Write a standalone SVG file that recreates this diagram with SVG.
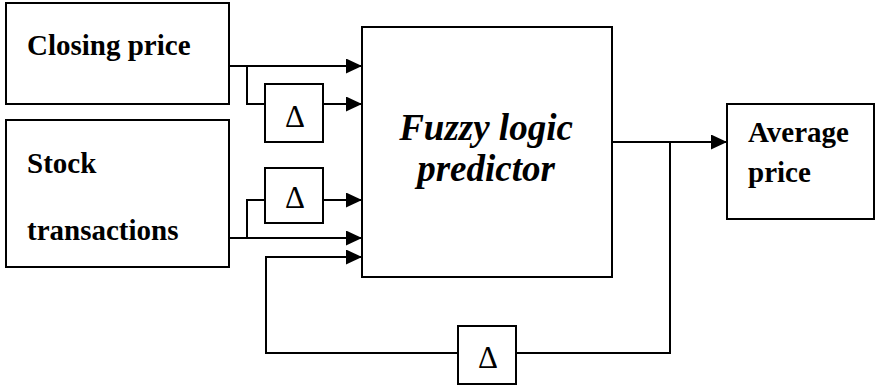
<svg xmlns="http://www.w3.org/2000/svg" width="876" height="388" viewBox="0 0 876 388">
<style>
.box{fill:#fff;stroke:#000;stroke-width:2}
.ln{fill:none;stroke:#000;stroke-width:2}
.d{font-size:31px}
</style>
<defs>
<marker id="ah" markerWidth="16" markerHeight="15" refX="16" refY="7.5" orient="auto" markerUnits="userSpaceOnUse">
<path d="M0,0 L16,7.5 L0,15 Z" fill="#000"/>
</marker>
</defs>
<rect width="876" height="388" fill="#fff"/>
<g id="connectors">
<path class="ln" d="M229,66 H362" marker-end="url(#ah)"/>
<path class="ln" d="M247,66 V104 H265"/>
<path class="ln" d="M323,104 H362" marker-end="url(#ah)"/>
<path class="ln" d="M229,238 H362" marker-end="url(#ah)"/>
<path class="ln" d="M247,238 V200 H265"/>
<path class="ln" d="M323,200 H362" marker-end="url(#ah)"/>
<path class="ln" d="M612,142 H727" marker-end="url(#ah)"/>
<path class="ln" d="M670,142 V353 H516"/>
<path class="ln" d="M458,353 H266 V257 H362" marker-end="url(#ah)"/>
</g>
<g font-family="Liberation Serif, Times New Roman, Times, DejaVu Serif, serif" fill="#000">
<g id="closing">
<rect class="box" x="6" y="3" width="223" height="101"/>
<text x="27" y="55" font-size="29" font-weight="bold">Closing price</text>
</g>
<g id="stock">
<rect class="box" x="6" y="120" width="223" height="147"/>
<text x="27" y="173" font-size="29" font-weight="bold">Stock</text>
<text x="27" y="240" font-size="29" font-weight="bold">transactions</text>
</g>
<g id="delta1">
<rect class="box" x="265" y="84" width="58" height="58"/>
<text class="d" x="295" y="127" text-anchor="middle">Δ</text>
</g>
<g id="delta2">
<rect class="box" x="265" y="168" width="58" height="55"/>
<text class="d" x="295" y="208" text-anchor="middle">Δ</text>
</g>
<g id="fuzzy">
<rect class="box" x="362" y="27" width="250" height="250"/>
<text x="486" y="140" font-size="37" font-weight="bold" font-style="italic" text-anchor="middle">Fuzzy logic</text>
<text x="486" y="181" font-size="37" font-weight="bold" font-style="italic" text-anchor="middle">predictor</text>
</g>
<g id="average">
<rect class="box" x="727" y="104" width="147" height="115"/>
<text x="748" y="142" font-size="29" font-weight="bold">Average</text>
<text x="748" y="182" font-size="29" font-weight="bold">price</text>
</g>
<g id="delta3">
<rect class="box" x="458" y="326" width="58" height="58"/>
<text class="d" x="488" y="368" text-anchor="middle">Δ</text>
</g>
</g>
</svg>
